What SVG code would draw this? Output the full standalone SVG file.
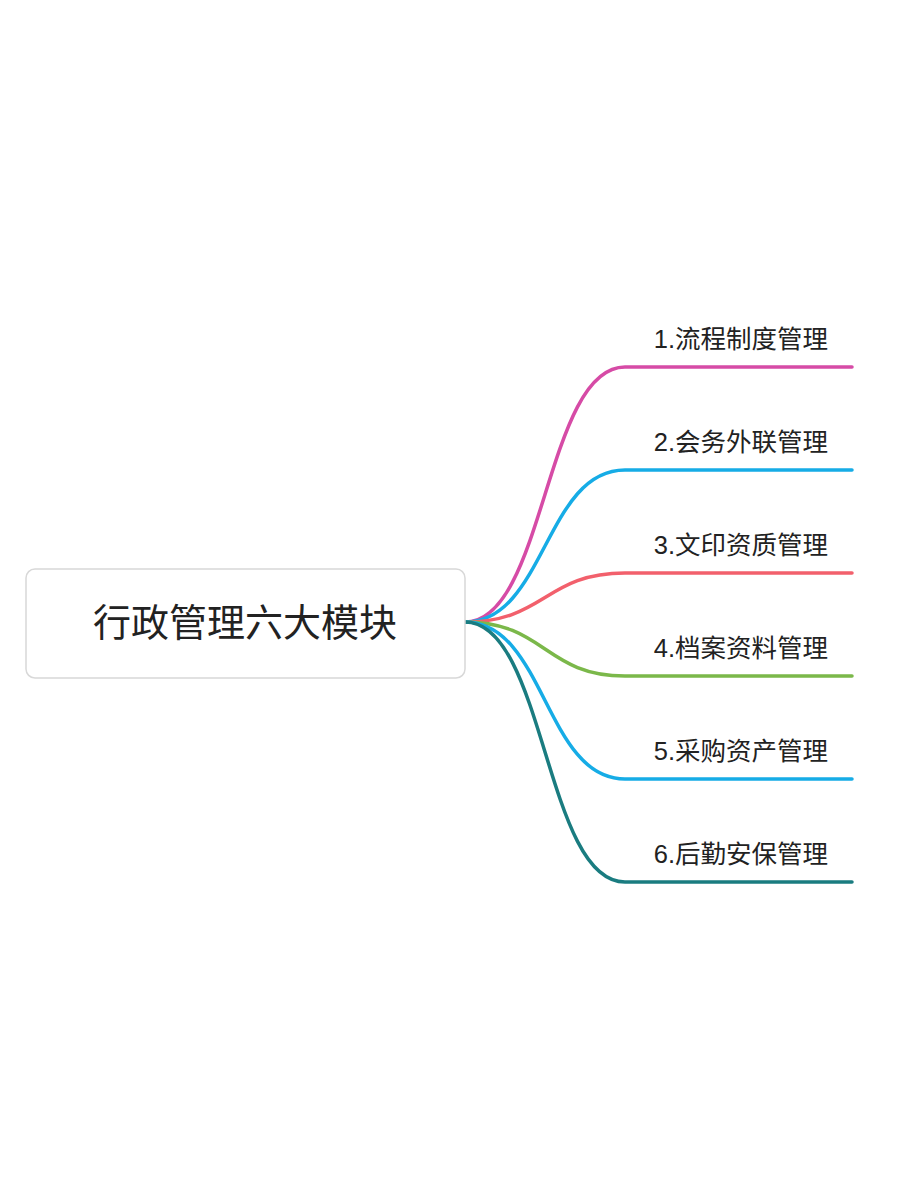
<svg xmlns="http://www.w3.org/2000/svg" width="900" height="1200" viewBox="0 0 900 1200">
<style>
.l{fill:none;stroke-width:3.5;stroke-linecap:round}
.t{font-family:"Liberation Sans","Noto Sans CJK SC",sans-serif;font-size:25.5px;fill:#222;text-anchor:end}
</style>
<rect width="900" height="1200" fill="#fff"/>
<g id="connectors">
<path class="l" stroke="#d64ba6" d="M465,622 C545,622 545,367 625,367 L852,367"/>
<path class="l" stroke="#16ace6" d="M465,622 C545,622 545,470 625,470 L852,470"/>
<path class="l" stroke="#f2606c" d="M465,622 C545,622 545,573 625,573 L852,573"/>
<path class="l" stroke="#7bb84a" d="M465,622 C545,622 545,676 625,676 L852,676"/>
<path class="l" stroke="#16ace6" d="M465,622 C545,622 545,779 625,779 L852,779"/>
<path class="l" stroke="#1a7c80" d="M465,622 C545,622 545,882 625,882 L852,882"/>
</g>
<g id="root">
<rect x="26" y="569" width="439" height="109" rx="9" fill="#fff" stroke="#d8d8d8" stroke-width="1.5"/>
<text x="245" y="636" font-family="'Liberation Sans','Noto Sans CJK SC',sans-serif" font-size="38" fill="#222" text-anchor="middle">行政管理六大模块</text>
</g>
<g id="n1"><text class="t" x="828" y="348">1.流程制度管理</text></g>
<g id="n2"><text class="t" x="828" y="451">2.会务外联管理</text></g>
<g id="n3"><text class="t" x="828" y="554">3.文印资质管理</text></g>
<g id="n4"><text class="t" x="828" y="657">4.档案资料管理</text></g>
<g id="n5"><text class="t" x="828" y="760">5.采购资产管理</text></g>
<g id="n6"><text class="t" x="828" y="863">6.后勤安保管理</text></g>
</svg>
